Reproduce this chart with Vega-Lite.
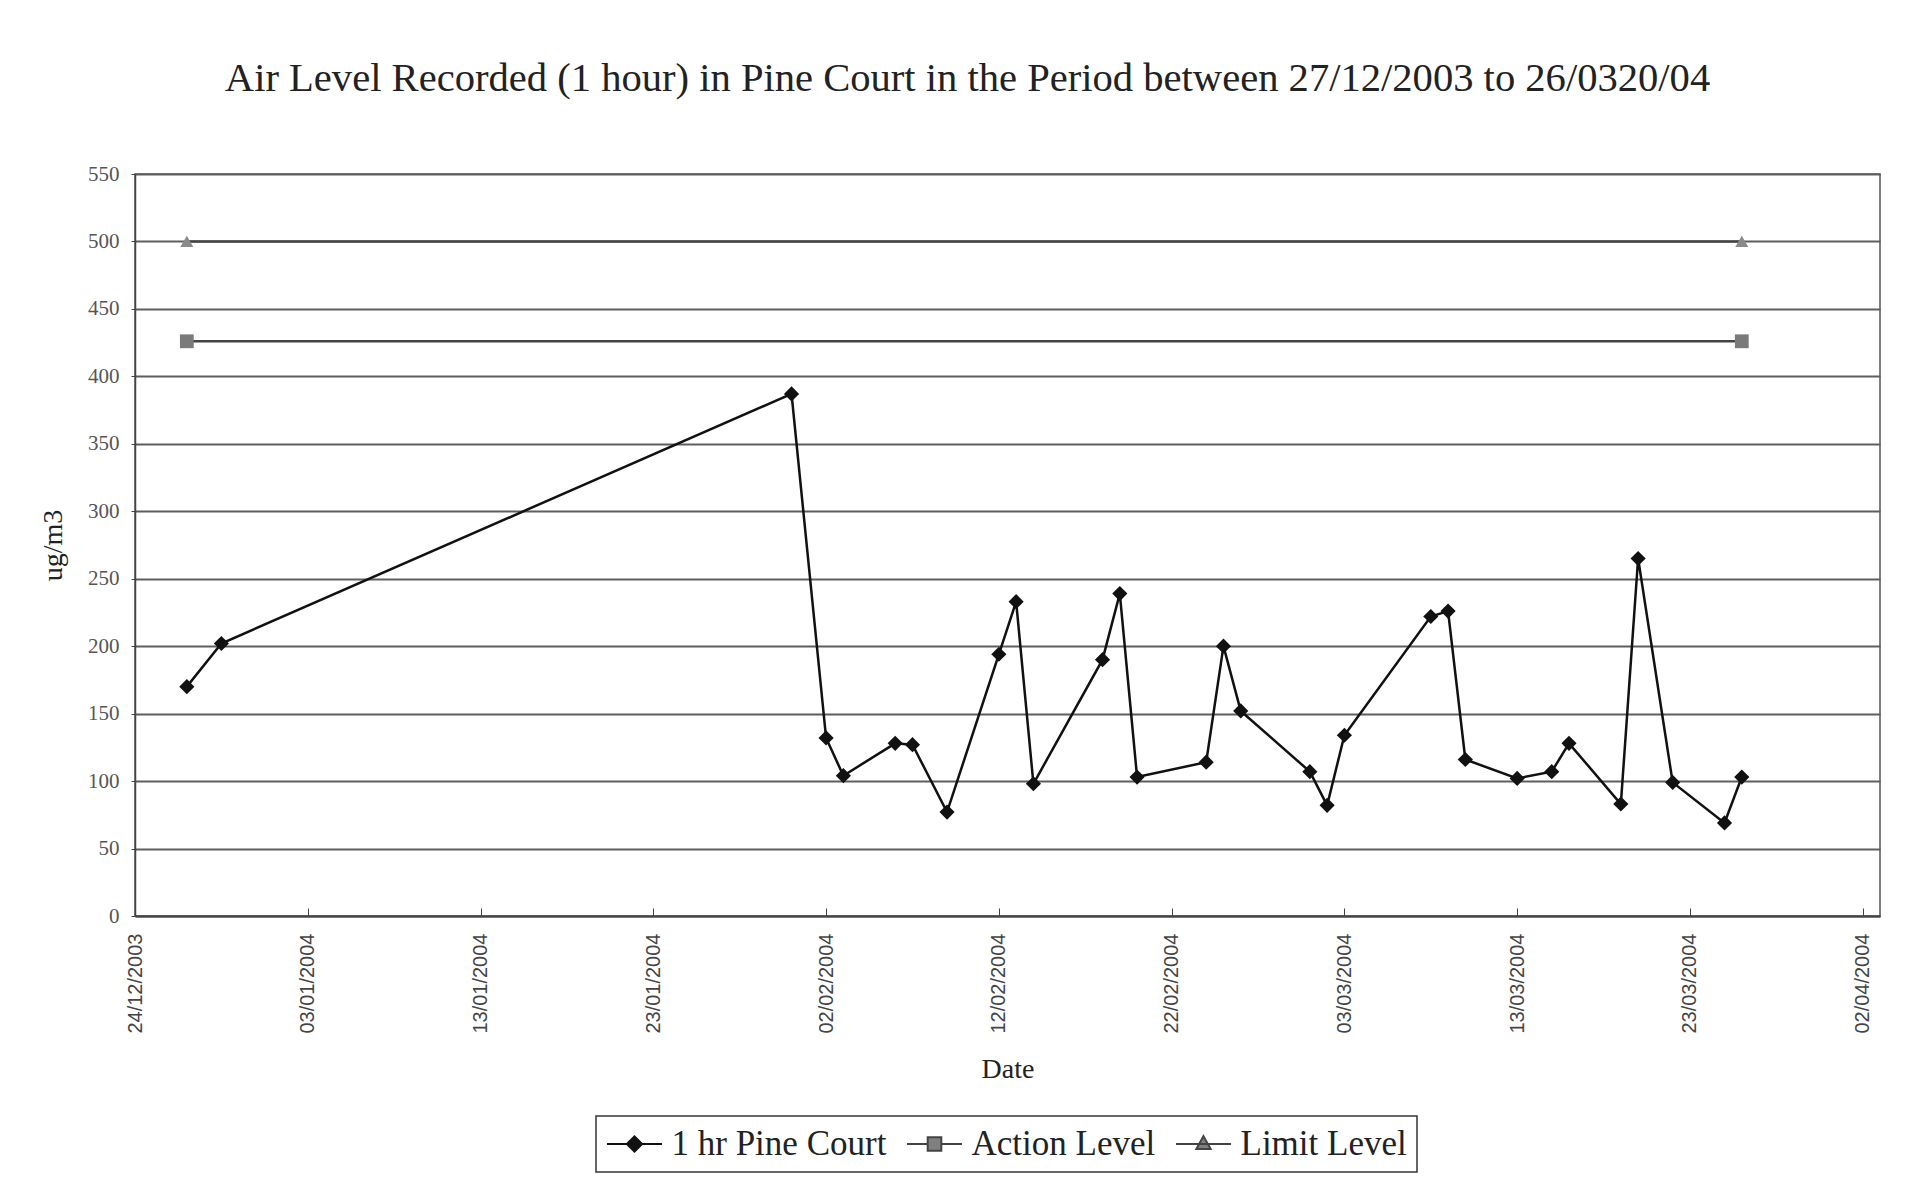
{
  "$schema": "https://vega.github.io/schema/vega-lite/v6.json",
  "autosize": {"type": "none"},
  "padding": {"left": 135, "top": 174, "right": 28, "bottom": 261},
  "width": 1745,
  "height": 742,
  "background": "white",
  "title": {
    "text": "Air Level Recorded (1 hour) in Pine Court in the Period between 27/12/2003 to 26/0320/04",
    "font": "Liberation Serif",
    "fontSize": 40.6,
    "fontWeight": "normal",
    "color": "#222",
    "anchor": "middle",
    "dx": -40,
    "baseline": "alphabetic",
    "offset": 31
  },
  "config": {
    "font": "Liberation Serif",
    "view": {"stroke": "#555", "strokeWidth": 1.5},
    "axis": {"domainColor": "#444", "tickColor": "#444"}
  },
  "data": {
    "values": [
      {"date": "2003-12-27", "value": 170, "series": "1 hr Pine Court"},
      {"date": "2003-12-29", "value": 202, "series": "1 hr Pine Court"},
      {"date": "2004-01-31", "value": 387, "series": "1 hr Pine Court"},
      {"date": "2004-02-02", "value": 132, "series": "1 hr Pine Court"},
      {"date": "2004-02-03", "value": 104, "series": "1 hr Pine Court"},
      {"date": "2004-02-06", "value": 128, "series": "1 hr Pine Court"},
      {"date": "2004-02-07", "value": 127, "series": "1 hr Pine Court"},
      {"date": "2004-02-09", "value": 77, "series": "1 hr Pine Court"},
      {"date": "2004-02-12", "value": 194, "series": "1 hr Pine Court"},
      {"date": "2004-02-13", "value": 233, "series": "1 hr Pine Court"},
      {"date": "2004-02-14", "value": 98, "series": "1 hr Pine Court"},
      {"date": "2004-02-18", "value": 190, "series": "1 hr Pine Court"},
      {"date": "2004-02-19", "value": 239, "series": "1 hr Pine Court"},
      {"date": "2004-02-20", "value": 103, "series": "1 hr Pine Court"},
      {"date": "2004-02-24", "value": 114, "series": "1 hr Pine Court"},
      {"date": "2004-02-25", "value": 200, "series": "1 hr Pine Court"},
      {"date": "2004-02-26", "value": 152, "series": "1 hr Pine Court"},
      {"date": "2004-03-01", "value": 107, "series": "1 hr Pine Court"},
      {"date": "2004-03-02", "value": 82, "series": "1 hr Pine Court"},
      {"date": "2004-03-03", "value": 134, "series": "1 hr Pine Court"},
      {"date": "2004-03-08", "value": 222, "series": "1 hr Pine Court"},
      {"date": "2004-03-09", "value": 226, "series": "1 hr Pine Court"},
      {"date": "2004-03-10", "value": 116, "series": "1 hr Pine Court"},
      {"date": "2004-03-13", "value": 102, "series": "1 hr Pine Court"},
      {"date": "2004-03-15", "value": 107, "series": "1 hr Pine Court"},
      {"date": "2004-03-16", "value": 128, "series": "1 hr Pine Court"},
      {"date": "2004-03-19", "value": 83, "series": "1 hr Pine Court"},
      {"date": "2004-03-20", "value": 265, "series": "1 hr Pine Court"},
      {"date": "2004-03-22", "value": 99, "series": "1 hr Pine Court"},
      {"date": "2004-03-25", "value": 69, "series": "1 hr Pine Court"},
      {"date": "2004-03-26", "value": 103, "series": "1 hr Pine Court"},
      {"date": "2003-12-27", "value": 426, "series": "Action Level"},
      {"date": "2004-03-26", "value": 426, "series": "Action Level"},
      {"date": "2003-12-27", "value": 500, "series": "Limit Level"},
      {"date": "2004-03-26", "value": 500, "series": "Limit Level"}
    ]
  },
  "encoding": {
    "x": {
      "field": "date",
      "type": "temporal",
      "scale": {
        "type": "utc",
        "domain": [
          {"year": 2003, "month": 12, "date": 24, "utc": true},
          {"year": 2004, "month": 4, "date": 3, "utc": true}
        ]
      },
      "axis": {
        "title": "Date",
        "titleFont": "Liberation Serif",
        "titleFontSize": 28,
        "titleFontWeight": "normal",
        "titleColor": "#222",
        "titlePadding": 22,
        "format": "%d/%m/%Y",
        "values": [
          {"year": 2003, "month": 12, "date": 24, "utc": true},
          {"year": 2004, "month": 1, "date": 3, "utc": true},
          {"year": 2004, "month": 1, "date": 13, "utc": true},
          {"year": 2004, "month": 1, "date": 23, "utc": true},
          {"year": 2004, "month": 2, "date": 2, "utc": true},
          {"year": 2004, "month": 2, "date": 12, "utc": true},
          {"year": 2004, "month": 2, "date": 22, "utc": true},
          {"year": 2004, "month": 3, "date": 3, "utc": true},
          {"year": 2004, "month": 3, "date": 13, "utc": true},
          {"year": 2004, "month": 3, "date": 23, "utc": true},
          {"year": 2004, "month": 4, "date": 2, "utc": true}
        ],
        "labelAngle": 270,
        "labelFont": "Liberation Sans",
        "labelFontSize": 20,
        "labelColor": "#444",
        "labelPadding": 25,
        "labelOverlap": false,
        "labelFlush": false,
        "tickSize": -8,
        "grid": false,
        "domainWidth": 2
      }
    },
    "y": {
      "field": "value",
      "type": "quantitative",
      "scale": {"domain": [0, 550], "nice": false},
      "axis": {
        "title": "ug/m3",
        "titleFont": "Liberation Serif",
        "titleFontSize": 28,
        "titleFontWeight": "normal",
        "titleColor": "#222",
        "titlePadding": 20,
        "values": [0, 50, 100, 150, 200, 250, 300, 350, 400, 450, 500, 550],
        "labelFont": "Liberation Serif",
        "labelFontSize": 21,
        "labelColor": "#555",
        "labelPadding": 12,
        "tickSize": 4,
        "grid": true,
        "gridColor": "#5e5e5e",
        "gridWidth": 1.8,
        "domainWidth": 1.5
      }
    }
  },
  "layer": [
    {
      "mark": {"type": "line", "strokeWidth": 2.5},
      "encoding": {
        "color": {
          "field": "series",
          "type": "nominal",
          "scale": {
            "domain": ["1 hr Pine Court", "Action Level", "Limit Level"],
            "range": ["#111111", "#444444", "#444444"]
          },
          "legend": {
            "title": null,
            "orient": "none",
            "legendX": 461,
            "legendY": 942,
            "direction": "horizontal",
            "strokeColor": "#333",
            "padding": 10,
            "labelFont": "Liberation Serif",
            "labelFontSize": 35,
            "labelColor": "#222",
            "labelOffset": 19,
            "symbolOffset": 10.5,
            "columnPadding": 15,
            "symbolSize": 1156,
            "symbolStrokeWidth": 2,
            "labelLimit": 400,
            "encode": {
              "legend": {
                "update": {"strokeWidth": {"value": 1.5}}
              },
              "symbols": {
                "update": {
                  "shape": {"signal": "datum.value === '1 hr Pine Court' ? 'M-1.62,0L1.62,0M0,-0.45L0.45,0L0,0.45L-0.45,0Z' : datum.value === 'Action Level' ? 'M-1.62,0L-0.4,0M0.4,0L1.62,0M-0.4,-0.4L0.4,-0.4L0.4,0.4L-0.4,0.4Z' : 'M-1.62,0L1.62,0M0,-0.46L0.42,0.3L-0.42,0.3Z'"},
                  "size": {"value": 1156},
                  "strokeWidth": {"value": 2},
                  "opacity": {"value": 1},
                  "fill": {"signal": "datum.value === '1 hr Pine Court' ? '#111111' : '#808080'"},
                  "stroke": {"signal": "datum.value === '1 hr Pine Court' ? '#111111' : '#555555'"}
                }
              }
            }
          }
        }
      }
    },
    {
      "transform": [{"filter": "datum.series === '1 hr Pine Court'"}],
      "mark": {"type": "point", "shape": "diamond", "filled": true, "opacity": 1, "strokeWidth": 0, "size": 230, "color": "#111111"}
    },
    {
      "transform": [{"filter": "datum.series === 'Action Level'"}],
      "mark": {"type": "point", "shape": "square", "filled": true, "opacity": 1, "strokeWidth": 0, "size": 190, "color": "#7a7a7a"}
    },
    {
      "transform": [{"filter": "datum.series === 'Limit Level'"}],
      "mark": {"type": "point", "shape": "triangle-up", "filled": true, "opacity": 1, "strokeWidth": 0, "size": 170, "color": "#8a8a8a"}
    }
  ]
}
